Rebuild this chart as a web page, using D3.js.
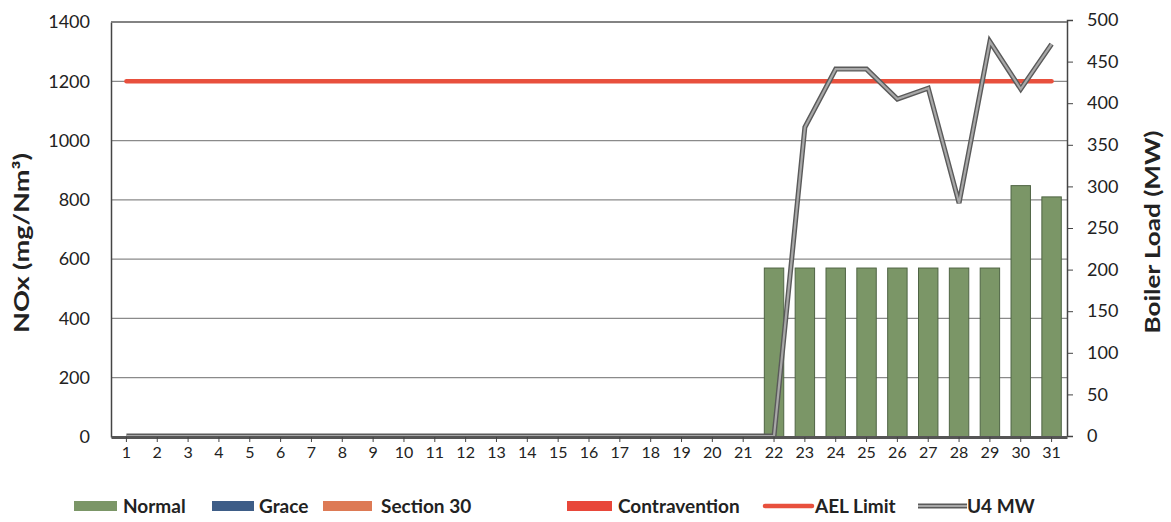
<!DOCTYPE html>
<html><head><meta charset="utf-8">
<script src="https://cdn.jsdelivr.net/npm/d3@7"></script>
<style>
body{margin:0;background:#fff;}
text{font-family:Lato,"Open Sans",sans-serif;fill:#222;}
</style></head>
<body><svg id="c" width="1171" height="522"></svg>
<script>
const days = d3.range(1,32).map(String);
const normal = [0,0,0,0,0,0,0,0,0,0,0,0,0,0,0,0,0,0,0,0,0,570,570,570,570,570,570,570,570,848,810];
const grace = new Array(31).fill(0);
const section30 = new Array(31).fill(0);
const contravention = new Array(31).fill(0);
const aelLimit = new Array(31).fill(1200);
const u4MW = [0,0,0,0,0,0,0,0,0,0,0,0,0,0,0,0,0,0,0,0,0,0,371,441,441,405,418,280,474,417,471];
const leftTicks = [0,200,400,600,800,1000,1200,1400];
const rightTicks = [0,50,100,150,200,250,300,350,400,450,500];
const legendItems = ["Normal","Grace","Section 30","Contravention","AEL Limit","U4 MW"];

const svg = d3.select("#c");
const L=111, R=1067, T=22, B=437;
const x = d3.scaleBand().domain(days).range([L,R]).paddingInner(0.37).paddingOuter(0.185);
const xc = d => x(d)+x.bandwidth()/2;
const yL = d3.scaleLinear().domain([0,1400]).range([B,T]);
const yR = d3.scaleLinear().domain([0,500]).range([B-1,T-2]);

// gridlines
svg.append("g").selectAll("line").data(leftTicks.filter(v=>v>0)).join("line")
  .attr("x1",L).attr("x2",R).attr("y1",d=>yL(d)).attr("y2",d=>yL(d))
  .attr("stroke","#8a8a8a").attr("stroke-width",1.3);

// bars (stacked categories; only Normal non-zero)
const colors = {"Normal":"#7b9667","Grace":"#3e5d87","Section 30":"#dd7a55","Contravention":"#e8473a"};
svg.append("g").selectAll("rect").data(days.map((d,i)=>({d,v:normal[i]})).filter(o=>o.v>0)).join("rect")
  .attr("x",o=>x(o.d)).attr("width",x.bandwidth())
  .attr("y",o=>yL(o.v)).attr("height",o=>yL(0)-yL(o.v))
  .attr("fill",colors.Normal).attr("stroke","#4f6444").attr("stroke-width",1);

// AEL limit
svg.append("path").datum(aelLimit)
  .attr("d",d3.line().x((v,i)=>xc(days[i])).y(v=>yL(v)))
  .attr("fill","none").attr("stroke","#e8503d").attr("stroke-width",4.5).attr("stroke-linecap","round");

// U4 MW line (double stroke)
const mwLine = d3.line().x((v,i)=>xc(days[i])).y(v=>yR(v));
svg.append("path").datum(u4MW).attr("d",mwLine).attr("fill","none")
  .attr("stroke","#5a5a5a").attr("stroke-width",5).attr("stroke-linejoin","miter");
svg.append("path").datum(u4MW).attr("d",mwLine).attr("fill","none")
  .attr("stroke","#a8a8a8").attr("stroke-width",2.2).attr("stroke-linejoin","miter");

const tickFont = g => g.selectAll("text").attr("font-size",18).attr("fill","#2a2a2a").style("font-family","Lato, 'Open Sans', sans-serif");

// axes
const gL = svg.append("g").attr("transform",`translate(${L},0)`)
  .call(d3.axisLeft(yL).tickValues(leftTicks).tickFormat(d3.format("d")).tickSize(0).tickPadding(21));
gL.select(".domain").attr("stroke","#444").attr("stroke-width",1.5);
tickFont(gL);

const gR = svg.append("g").attr("transform",`translate(${R},0)`)
  .call(d3.axisRight(yR).tickValues(rightTicks).tickSize(6).tickPadding(14));
gR.select(".domain").attr("stroke","#444").attr("stroke-width",1.5);
gR.selectAll(".tick line").attr("stroke","#444");
tickFont(gR);

const gX = svg.append("g").attr("transform",`translate(0,${B})`)
  .call(d3.axisBottom(x).tickSize(5).tickPadding(5).tickSizeOuter(0));
gX.select(".domain").attr("stroke","#555").attr("stroke-width",3);
gX.selectAll(".tick line").attr("stroke","#444");
tickFont(gX);
gX.selectAll("text").attr("font-size",16);

// top border
svg.append("line").attr("x1",L).attr("x2",R).attr("y1",T).attr("y2",T).attr("stroke","#777").attr("stroke-width",1.3);

// axis titles
svg.append("text").attr("transform",`translate(29,243) rotate(-90)`)
  .attr("text-anchor","middle").attr("font-size",21).attr("font-weight","bold")
  .attr("textLength",180).attr("lengthAdjust","spacingAndGlyphs").text("NOx (mg/Nm³)");
svg.append("text").attr("transform",`translate(1160,232) rotate(-90)`)
  .attr("text-anchor","middle").attr("font-size",21).attr("font-weight","bold")
  .attr("textLength",203).attr("lengthAdjust","spacingAndGlyphs").text("Boiler Load (MW)");

// legend
const legX = [74,212,323,567,764,918];
const swW = [43,42,49,45,48,49];
const txX = [49,47,58,51,51,49];
const lg = svg.append("g");
legendItems.forEach((name,i)=>{
  const g = lg.append("g").attr("transform",`translate(${legX[i]},506)`);
  if(i<4){
    g.append("rect").attr("x",0).attr("y",-5).attr("width",swW[i]).attr("height",10).attr("fill",colors[name]);
  } else if(i===4){
    g.append("line").attr("x1",1).attr("x2",swW[i]).attr("y1",0).attr("y2",0).attr("stroke","#e8503d").attr("stroke-width",4.5).attr("stroke-linecap","round");
  } else {
    g.append("line").attr("x1",0).attr("x2",swW[i]).attr("y1",0).attr("y2",0).attr("stroke","#5a5a5a").attr("stroke-width",5);
    g.append("line").attr("x1",0).attr("x2",swW[i]).attr("y1",0).attr("y2",0).attr("stroke","#a8a8a8").attr("stroke-width",2.2);
  }
  g.append("text").attr("x",txX[i]).attr("y",7).attr("font-size",19).attr("font-weight","bold").text(name);
});
</script></body></html>
